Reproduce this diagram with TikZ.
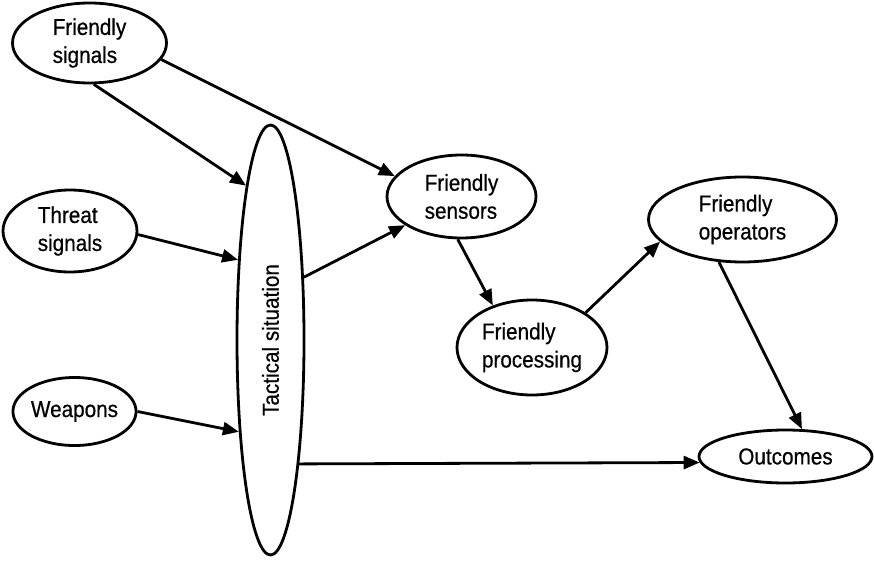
\documentclass[tikz,border=0pt]{standalone}
\usepackage{fontspec}
\setmainfont[FakeStretch=0.9,FakeBold=0.6]{Liberation Sans}
\usetikzlibrary{shapes.geometric,arrows.meta}
\begin{document}
\begin{tikzpicture}[x=1pt,y=-1pt,
  oval/.style={draw=black, line width=2.8pt, ellipse, inner sep=0pt,
    align=left, font=\fontsize{23}{28}\selectfont},
  conn/.style={line width=2.8pt, -{Triangle[length=16pt,width=13pt]}}]
\useasboundingbox (0,0) rectangle (874,561);
\node[oval, minimum width=154pt, minimum height=80pt] (fsig) at (89.5,43) {Friendly\\signals};
\node[oval, minimum width=134pt, minimum height=82pt] (tsig) at (70,231) {Threat\\signals};
\node[oval, minimum width=116pt, minimum height=68pt] (weap) at (74.5,411.5) {Weapons};
\node[oval, minimum width=67pt, minimum height=430pt] (tac) at (270.5,340) {};
\node[rotate=90, font=\fontsize{23}{28}\selectfont] (tactxt) at (tac.center) {Tactical situation};
\node[oval, minimum width=149pt, minimum height=83pt] (sens) at (461.5,196.5) {Friendly\\sensors};
\node[oval, minimum width=150pt, minimum height=95pt] (proc) at (532,347.5) {Friendly\\processing};
\node[oval, minimum width=188pt, minimum height=85pt] (oper) at (742.5,219.5) {Friendly\\operators};
\node[oval, minimum width=173pt, minimum height=53pt] (outc) at (785.5,456.5) {Outcomes};

\draw[conn] (fsig.-84) -- (tac.99.5);
\draw[conn] (fsig.-13.5) -- (sens.163.5);
\draw[conn] (tsig.-3.4) -- (tac.112.6);
\draw[conn] (weap.0) -- (tac.251.6);
\draw[conn] (tac.62.2) -- (sens.207.5);
\draw[conn] (sens.265.4) -- (proc.133.3);
\draw[conn] (proc.33.8) -- (oper.195.3);
\draw[conn] (oper.241) -- (outc.59.3);
\draw[conn] (tac.-77) -- (outc.184.2);
\end{tikzpicture}
\end{document}
